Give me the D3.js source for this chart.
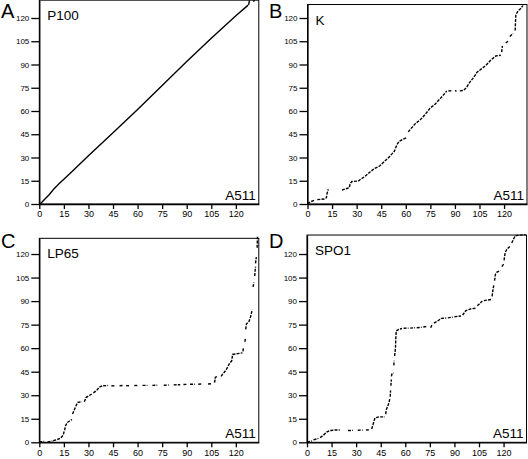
<!DOCTYPE html>
<html>
<head>
<meta charset="utf-8">
<script src="https://cdn.jsdelivr.net/npm/d3@7/dist/d3.min.js"></script>
<style>
  html, body { margin: 0; padding: 0; background: #fff; }
  svg { display: block; font-family: "Liberation Sans", Arial, Helvetica, sans-serif; }
</style>
</head>
<body>
<svg id="chart" width="528" height="459"></svg>
<script>
// ---- data (kb positions: x = A511 genome, y = compared phage genome) ----
const xTicks = [0, 15, 30, 45, 60, 75, 90, 105, 120];
const yTicks = [0, 15, 30, 45, 60, 75, 90, 105, 120];
const referenceName = "A511";
const panelLetters = ["A", "B", "C", "D"];
const phageNames = ["P100", "K", "LP65", "SPO1"];
const xMax = 134;
const yMaxes = [131.5, 128.7, 130, 132.1];

const runsP100 = [
  [[0.5,0],[3,2.8],[6,6],[9,9.8],[11,12],[12,13],[15,15.9],[20,20.9],[30,31.2],[45,46],[60,61],[75,76.5],[90,92],[105,107],[120,121.5],[127.5,128.3]],
  [[127.8,128.5],[128.3,131.3]],
  [[130.5,130.8],[131.5,131.3]]
];

const runsK = [
  [[0,0.3],[2,1.5],[4,2.3]],
  [[6,2.8],[10,3.2],[11.5,4],[12,7],[12.7,9.5]],
  [[21,9],[24,10],[25.5,10.5],[26,13],[27,14.5],[31,14.8],[32.5,16],[35,17.7],[38,20.5],[41,23],[44,24.5],[47,27.5],[50,30.5],[53,34],[54.5,38],[56,40.5],[58.5,41.8],[60.8,43]],
  [[61.5,46.5],[63,48.5],[66,52],[69,54.5],[72,58],[75,62],[78,64.5],[81,68],[84,71.5],[85,73]],
  [[86,73],[88,73]],
  [[90,73],[91,73]],
  [[93,73],[95,73.2]],
  [[95.5,73.5],[97,75],[99,78.5],[101,81],[103.5,85],[106,87],[109,89.5],[112,93],[115,95.5],[118,96]],
  [[118.5,98],[119,102]],
  [[121,104],[122.5,105]],
  [[123.5,108],[125.5,110]],
  [[126.8,112],[127,118],[127.2,122],[128.5,124.5],[130,126],[131.5,128]]
];

const runsLP65 = [
  [[0,0.3],[3,0.5]],
  [[5,0.3],[8,0.8]],
  [[8.5,1],[11,1.8],[13,2.6],[14.5,4.5],[15.5,8],[16,10.5],[17,12.5],[19,14],[20,14.5]],
  [[20.3,18],[21.5,21],[22.5,23.5],[23.5,25.5],[26,25.8]],
  [[27.5,25.8],[28.5,28.5],[30,29.5],[32,30.8]],
  [[33,31.5],[35,33],[36.5,35],[38.5,36]],
  [[39,36],[42,36.2]],
  [[44,36],[46,36]],
  [[49,36],[51,36.2]],
  [[53,36.1],[55,36.1]],
  [[58,36.2],[60,36.2]],
  [[63,36.3],[66,36.3]],
  [[69,36.3],[72,36.4]],
  [[76,36.4],[79,36.5]],
  [[82,36.6],[86,36.7]],
  [[88,36.8],[90,36.9]],
  [[92,37],[95,37]],
  [[97,37],[99,37.2]],
  [[103,37.2],[105,37.3]],
  [[107,38],[107.5,41.5],[109,42]],
  [[111,42],[112,43.5],[114,46],[116,50],[117.5,52],[118,56],[121,56.5],[124,57]],
  [[124.3,58],[124.6,60]],
  [[125.5,64],[125.8,66]],
  [[126,72],[126.5,75.5],[128,77],[129,80],[130,84.5]],
  [[130.5,99],[131,102]],
  [[131.5,106],[132,112]],
  [[132,114],[132.5,118]],
  [[133,124],[133.2,131]]
];

const runsSPO1 = [
  [[0,0.3],[3,0.8]],
  [[4,1.5],[7,2.5]],
  [[8,3],[10,4.5],[12,6.5],[14,7.5],[17,7.8],[20,7.8]],
  [[25,7.5],[28,7.6]],
  [[31,7.7],[34,7.8]],
  [[36,7.8],[38.5,8]],
  [[39.5,8.5],[40.5,12],[41.5,15.5],[44,16.2],[47.5,16.2]],
  [[48,18],[48.5,21],[50,25],[50.5,27.5]],
  [[50.8,29],[51,33]],
  [[51.2,36],[51.5,40]],
  [[51.5,42],[52,44],[52.8,44]],
  [[53,49],[53.2,52]],
  [[53.5,55],[54,60],[54.2,66],[54.5,71],[56,72],[58,72.5]],
  [[59,72.7],[62,72.8]],
  [[63,72.8],[66,73]],
  [[67,73],[70,73.3]],
  [[71,73.5],[73,73.8]],
  [[75.5,73],[76.5,75.5]],
  [[77.5,76],[80,77.5],[82,79],[85,79.2]],
  [[86,79.3],[89,79.8]],
  [[90,80],[94,80.5]],
  [[95,81],[97,84],[100,85],[103,85.5]],
  [[104,87],[106,89],[107,90]],
  [[108,90.3],[112.5,91]],
  [[113,93],[113.5,97],[114,100]],
  [[114.5,103],[115,107],[116,108.5],[118,109.5]],
  [[119,112],[120,113.5]],
  [[120.3,116],[121,121],[122,123],[124,125]],
  [[125,127],[127,131.5],[129,132],[133.5,132.3]]
];

const allRuns = [runsP100, runsK, runsLP65, runsSPO1];

// ---- layout ----
const layout = [
  { left: 39.3,  bottom: 204,   ky: 1.55,  dash: null,    letterX: 1,   letterY: 18 },
  { left: 307.5, bottom: 204,   ky: 1.55,  dash: "3,1.2", letterX: 269, letterY: 18 },
  { left: 39.3,  bottom: 442.3, ky: 1.569, dash: "3,1.2", letterX: 1,   letterY: 248 },
  { left: 307,   bottom: 442.3, ky: 1.569, dash: "3,1.2", letterX: 269, letterY: 248 }
];
const kx = 1.638;

const svg = d3.select("#chart");

layout.forEach((L, i) => {
  const x = d3.scaleLinear().domain([0, xMax]).range([L.left, L.left + xMax * kx]);
  const y = d3.scaleLinear().domain([0, yMaxes[i]]).range([L.bottom, L.bottom - yMaxes[i] * L.ky]);
  const g = svg.append("g");

  // frame
  g.append("rect")
    .attr("x", x(0)).attr("y", y(yMaxes[i]))
    .attr("width", x(xMax) - x(0)).attr("height", y(0) - y(yMaxes[i]))
    .attr("fill", "none").attr("stroke", "#000").attr("stroke-width", 1);

  // axes
  const xa = g.append("g").attr("transform", `translate(0,${L.bottom})`)
    .call(d3.axisBottom(x).tickValues(xTicks).tickSize(5).tickPadding(2).tickSizeOuter(0));
  const ya = g.append("g").attr("transform", `translate(${L.left},0)`)
    .call(d3.axisLeft(y).tickValues(yTicks).tickSize(8).tickPadding(2).tickSizeOuter(0));
  [xa, ya].forEach(a => {
    a.select(".domain").attr("stroke", "#000").attr("stroke-width", 1.3);
    a.selectAll(".tick line").attr("stroke", "#000").attr("stroke-width", 1.3);
    a.selectAll("text").attr("fill", "#000").style("font-family", "'Liberation Sans', Arial, sans-serif");
  });
  xa.selectAll("text").style("font-size", "9px");
  ya.selectAll("text").style("font-size", "8px");

  // dot-plot matches
  const line = d3.line().x(d => x(d[0])).y(d => y(d[1]));
  g.append("g").selectAll("path").data(allRuns[i]).join("path")
    .attr("d", line)
    .attr("fill", "none").attr("stroke", "#000")
    .attr("stroke-width", 1.4)
    .attr("stroke-dasharray", L.dash);

  // labels
  g.append("text").attr("x", x(0) + 8).attr("y", y(yMaxes[i]) + 20)
    .style("font-size", "13.5px").text(phageNames[i]);
  g.append("text").attr("x", x(xMax) - 3).attr("y", L.bottom - 4)
    .attr("text-anchor", "end").style("font-size", "13.5px").text(referenceName);
  svg.append("text").attr("x", L.letterX).attr("y", L.letterY)
    .style("font-size", "20px").text(panelLetters[i]);
});
</script>
</body>
</html>
